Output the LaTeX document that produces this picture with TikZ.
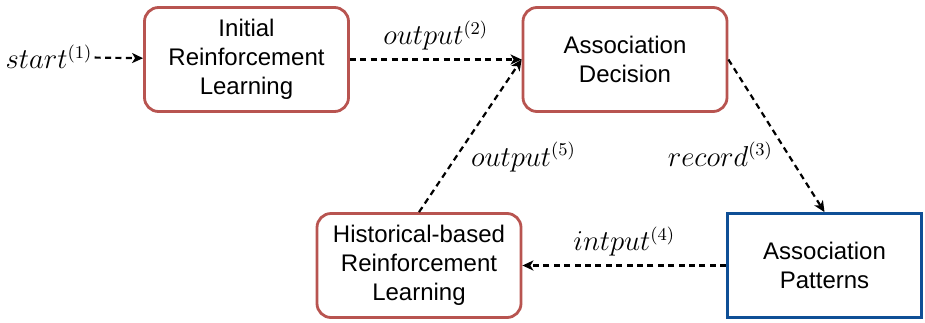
\documentclass[12pt,tikz,border=0pt]{standalone}
\usepackage{fontspec}
\newfontfamily\boxfont{Liberation Sans}
\usetikzlibrary{arrows.meta}
\definecolor{boxred}{HTML}{B85450}
\definecolor{boxblue}{HTML}{0F4F96}
\tikzset{
  block/.style={draw=boxred, line width=1.4pt, rounded corners=7pt, align=center,
    minimum width=102pt, minimum height=52pt, font=\boxfont\fontsize{12}{14.5}\selectfont},
  flow/.style={->, line width=1.1pt, dash pattern=on 3pt off 2.2pt},
  tag/.style={font=\fontsize{13.5}{16}\selectfont, inner sep=1pt},
}
\begin{document}
\begin{tikzpicture}[>={Stealth[length=5.5pt,width=5pt,inset=1.5pt]}, x=0.5pt, y=-0.5pt]
    \useasboundingbox (0,0) rectangle (925,322);
    \node[block](init) at (246.5,59.5){Initial\\Reinforcement\\Learning};
    \node[block](decide) at (625,59.5){Association\\Decision};
    \node[block](hist) at (419,265.5){Historical-based\\Reinforcement\\Learning};
    \node[block, draw=boxblue, rounded corners=0pt, minimum width=97pt](pattern) at (824.5,265.5){Association\\Patterns};
    \node[tag](start) at (49,57){$start^{(1)}$};
    \draw[flow](start)--(init);
    \draw[flow](init)--node[tag, above=3pt]{$output^{(2)}$}(decide);
    \draw[flow](decide.east)--node[tag, pos=0.62, left=6pt]{$record^{(3)}$}(pattern.north);
    \draw[flow](pattern)--node[tag, above=3pt]{$intput^{(4)}$}(hist);
    \draw[flow](hist.north)--node[tag, pos=0.36, right=6pt]{$output^{(5)}$}(decide.west);
\end{tikzpicture}
\end{document}
